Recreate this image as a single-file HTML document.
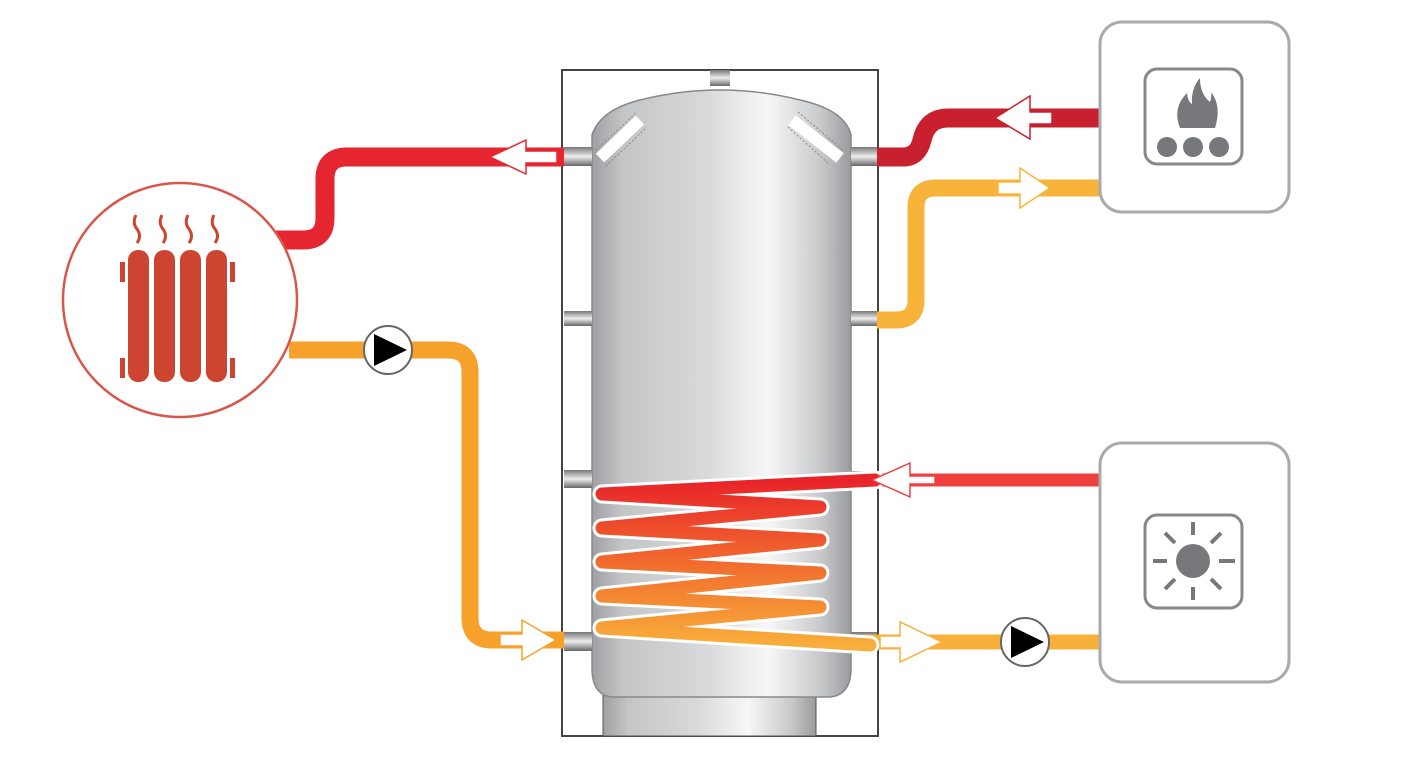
<!DOCTYPE html>
<html><head><style>html,body{margin:0;padding:0;background:#fff}svg{display:block}</style></head>
<body>
<svg width="1416" height="760" viewBox="0 0 1416 760" xmlns="http://www.w3.org/2000/svg">
<defs>
<linearGradient id="tank" x1="0" x2="1" y1="0" y2="0">
<stop offset="0" stop-color="#9fa0a3"/><stop offset="0.12" stop-color="#c4c5c7"/>
<stop offset="0.45" stop-color="#d9dadb"/><stop offset="0.68" stop-color="#f7f7f7"/>
<stop offset="0.88" stop-color="#c9cacc"/><stop offset="1" stop-color="#9a9b9e"/>
</linearGradient>
<linearGradient id="port" x1="0" x2="0" y1="0" y2="1">
<stop offset="0" stop-color="#777"/><stop offset="0.5" stop-color="#eee"/><stop offset="1" stop-color="#666"/>
</linearGradient>
<linearGradient id="coil" gradientUnits="userSpaceOnUse" x1="0" y1="480" x2="0" y2="645">
<stop offset="0" stop-color="#e8232a"/><stop offset="0.5" stop-color="#f16b2e"/><stop offset="1" stop-color="#f8ae3a"/>
</linearGradient>
</defs>

<!-- frame -->
<rect x="562" y="70" width="316" height="666" fill="#fff" stroke="#444" stroke-width="2"/>
<!-- top stub -->
<rect x="710" y="70" width="20" height="16" fill="url(#port)"/>
<!-- base -->
<rect x="603" y="690" width="213" height="46" fill="url(#tank)" stroke="#555" stroke-width="1"/>
<!-- tank body -->
<path d="M592,135 Q600,110 640,100 Q720,80 800,100 Q845,110 851,135 V668 Q851,695 830,697 H612 Q592,695 592,668 Z" fill="url(#tank)" stroke="#888" stroke-width="1.5"/>
<!-- white diagonal slots -->
<g stroke="#fff" stroke-width="12"><line x1="600" y1="158" x2="640" y2="120"/><line x1="792" y1="120" x2="840" y2="158"/></g>
<g stroke="#888" stroke-width="1" stroke-dasharray="2 2" fill="none"><path d="M596,150 L636,113 M606,166 L646,128 M788,127 L828,163 M798,112 L843,150"/></g>

<!-- ports -->
<g fill="url(#port)">
<rect x="564" y="147" width="28" height="19"/><rect x="564" y="311" width="28" height="15"/>
<rect x="564" y="470" width="28" height="18"/><rect x="564" y="632" width="28" height="19"/>
<rect x="851" y="147" width="26" height="19"/><rect x="851" y="311" width="26" height="15"/>
<rect x="851" y="471" width="26" height="18"/><rect x="851" y="632" width="26" height="19"/>
</g>

<!-- pipes -->
<g fill="none" stroke-linejoin="round">
<path d="M564,157 H347 Q325,157 325,179 V218 Q325,240 303,240 H270" stroke="#e52631" stroke-width="19"/>
<path d="M289,350 H448 Q470,350 470,372 V618 Q470,640 492,640 H564" stroke="#f5a12a" stroke-width="17"/>
<path d="M877,157 H903 Q918,157 922,140 Q927,118 948,118 H1100" stroke="#c8202f" stroke-width="19"/>
<path d="M877,320 H896 Q916,320 916,300 V207 Q916,188 936,188 H1100" stroke="#f8b43a" stroke-width="17"/>
<path d="M860,480 H1100" stroke="#ef4040" stroke-width="13"/>
<path d="M862,642 H1100" stroke="#f8b03a" stroke-width="15"/>
</g>

<!-- coil -->
<g fill="none" stroke-linecap="round" stroke-linejoin="round">
<polyline points="875,480 602,494 820,507 602,528 820,540 602,562 820,573 602,596 820,607 602,628 870,645" stroke="#fff" stroke-width="19"/>
<polyline points="875,480 602,494 820,507 602,528 820,540 602,562 820,573 602,596 820,607 602,628 870,645" stroke="url(#coil)" stroke-width="13"/>
</g>

<!-- arrows -->
<g stroke-width="1.5" fill="#fff">
<path d="M557,151 H526 V140 L490,157 L526,174 V163 H557 Z" stroke="#e52631"/>
<path d="M1052,112 H1030 V96 L995,118 L1030,139 V124 H1052 Z" stroke="#c8202f"/>
<path d="M998,182 H1020 V168 L1050,188 L1020,208 V194 H998 Z" stroke="#f8b43a"/>
<path d="M935,476 H910 V463 L872,480 L910,497 V484 H935 Z" stroke="#ef4040"/>
<path d="M500,634 H522 V620 L556,640 L522,660 V646 H500 Z" stroke="#f5a12a"/>
<path d="M880,636 H900 V622 L942,642 L900,662 V648 H880 Z" stroke="#f8b03a"/>
</g>

<!-- pumps -->
<g stroke="#666" stroke-width="2" fill="#fff">
<circle cx="388" cy="350" r="24"/><circle cx="1025" cy="642" r="24"/>
</g>
<path d="M374,334 L407,350 L374,366 Z M1011,626 L1044,642 L1011,658 Z" fill="#000"/>

<!-- radiator -->
<circle cx="180" cy="300" r="117" fill="#fff" stroke="#d9574a" stroke-width="2.5"/>
<g fill="#cd4531">
<rect x="128" y="250" width="21" height="132" rx="10"/><rect x="154" y="250" width="21" height="132" rx="10"/>
<rect x="180" y="250" width="21" height="132" rx="10"/><rect x="206" y="250" width="21" height="132" rx="10"/>
<rect x="120" y="262" width="5" height="20"/><rect x="120" y="358" width="5" height="20"/>
<rect x="230" y="262" width="5" height="20"/><rect x="230" y="358" width="5" height="20"/>
</g>
<g fill="none" stroke="#cd4531" stroke-width="3">
<path d="M136,215 q-4,8 1,14 q5,7 0,14"/><path d="M162,215 q-4,8 1,14 q5,7 0,14"/>
<path d="M188,215 q-4,8 1,14 q5,7 0,14"/><path d="M214,215 q-4,8 1,14 q5,7 0,14"/>
</g>

<!-- boiler box -->
<rect x="1100" y="22" width="189" height="190" rx="22" fill="#fff" stroke="#aaa" stroke-width="3"/>
<rect x="1145" y="69" width="97" height="95" rx="12" fill="#fff" stroke="#888" stroke-width="3"/>
<g fill="#77787b">
<path d="M1180,128 Q1172,108 1187,93 Q1188,102 1192,104 Q1191,88 1200,78 Q1200,94 1210,102 Q1212,96 1211,92 Q1222,106 1215,128 Z"/>
<circle cx="1167" cy="147" r="10"/><circle cx="1193" cy="147" r="10"/><circle cx="1219" cy="147" r="10"/>
</g>

<!-- solar box -->
<rect x="1100" y="443" width="189" height="239" rx="22" fill="#fff" stroke="#aaa" stroke-width="3"/>
<rect x="1145" y="515" width="97" height="93" rx="12" fill="#fff" stroke="#888" stroke-width="3"/>
<circle cx="1193" cy="561" r="17" fill="#77787b"/>
<g stroke="#77787b" stroke-width="4">
<line x1="1193" y1="522" x2="1193" y2="535"/><line x1="1193" y1="587" x2="1193" y2="600"/>
<line x1="1153" y1="561" x2="1167" y2="561"/><line x1="1219" y1="561" x2="1235" y2="561"/>
<line x1="1165" y1="533" x2="1175" y2="543"/><line x1="1211" y1="579" x2="1221" y2="589"/>
<line x1="1221" y1="533" x2="1211" y2="543"/><line x1="1175" y1="579" x2="1165" y2="589"/>
</g>
</svg>
</body></html>
